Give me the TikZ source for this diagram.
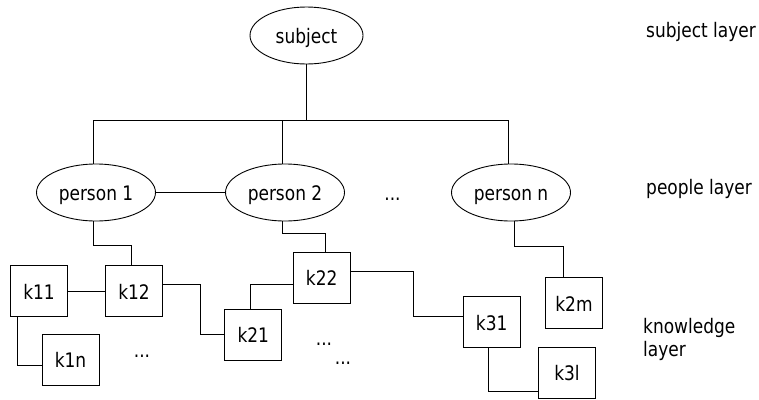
\documentclass[tikz,border=0pt]{standalone}
\usepackage{fontspec}
\setmainfont[FakeStretch=0.85]{DejaVu Sans}
\usetikzlibrary{shapes.geometric}
\begin{document}
\begin{tikzpicture}[x=1pt,y=-1pt,
  every node/.style={font=\fontsize{20}{23.7}\selectfont},
  person/.style={ellipse,draw,line width=0.9pt,minimum width=119pt,minimum height=57pt,inner sep=0pt,text height=16pt,text depth=0pt},
  kbox/.style={rectangle,draw,line width=0.9pt,minimum width=57pt,minimum height=50.5pt,inner sep=0pt,text height=16pt,text depth=0pt},
  conn/.style={line width=0.9pt},
  lbl/.style={inner sep=0pt,anchor=base west},
  dotsn/.style={inner sep=0pt,anchor=base}]
\useasboundingbox[fill=white] (0,0) rectangle (759,399);

% subject and people layer
\node[person,minimum width=113pt] (subj) at (306.5,35.5) {subject};
\node[person] (p1) at (96,192.5) {person 1};
\node[person] (p2) at (285,192.5) {person 2};
\node[person] (pn) at (511,192.5) {person n};

\coordinate (b1) at (93,120);
\coordinate (bn) at (508,120);
\draw[conn] (subj.south) -- (subj.south |- b1);
\draw[conn] (b1) -- (bn);
\draw[conn] (b1) -- (b1 |- p1.north);
\draw[conn] ([xshift=-3pt]p2.north |- b1) -- ([xshift=-3pt]p2.north);
\draw[conn] (bn) -- (bn |- pn.north);
\draw[conn] (p1) -- (p2);

% knowledge layer
\node[kbox] (k11) at (39,291) {k11};
\node[kbox] (k12) at (134,291) {k12};
\node[kbox] (k1n) at (70.5,359.7) {k1n};
\node[kbox] (k21) at (253.3,334.7) {k21};
\node[kbox] (k22) at (321.7,277.7) {k22};
\node[kbox] (k31) at (491.7,322) {k31};
\node[kbox] (k3l) at (567,372.8) {k3l};
\node[kbox] (k2m) at (574,303) {k2m};

\draw[conn] ([xshift=-3pt]p1.south) -- ++(0,24) -| ([xshift=-3pt]k12.north);
\draw[conn] (k11.east) -- (k12.west);
\draw[conn] ([xshift=7.3pt]k11.south west) |- ([yshift=-6pt]k1n.west);
\draw[conn] ([yshift=6.7pt]k12.east) -- ++(37.3,0) |- (k21.west);
\draw[conn] ([xshift=-3.3pt]k21.north) |- ([yshift=-6.6pt]k22.west);
\draw[conn] ([xshift=-3pt]p2.south) -- ++(0,12.3) -| ([xshift=4pt]k22.north);
\draw[conn] ([yshift=6pt]k22.east) -- ++(62.3,0) |- ([yshift=6pt]k31.west);
\draw[conn] ([xshift=-3.4pt]k31.south) |- ([yshift=-18.2pt]k3l.west);
\draw[conn] ([xshift=3.3pt]pn.south) -- ++(0,24.5) -| ([xshift=-10.7pt]k2m.north);

% ellipsis marks
\node[dotsn] (d1) at (392.5,200) {...};
\node[dotsn] (d2) at (142,357.5) {...};
\node[dotsn] (d3) at (324,345.5) {...};
\node[dotsn] (d4) at (343,364.5) {...};

% layer labels
\node[lbl] (ls) at (646,37.5) {subject layer};
\node[lbl] (lp) at (646,194.5) {people layer};
\node[inner sep=0pt,anchor=west,align=left] (lk) at (643,339.4) {knowledge\\layer};
\end{tikzpicture}
\end{document}
